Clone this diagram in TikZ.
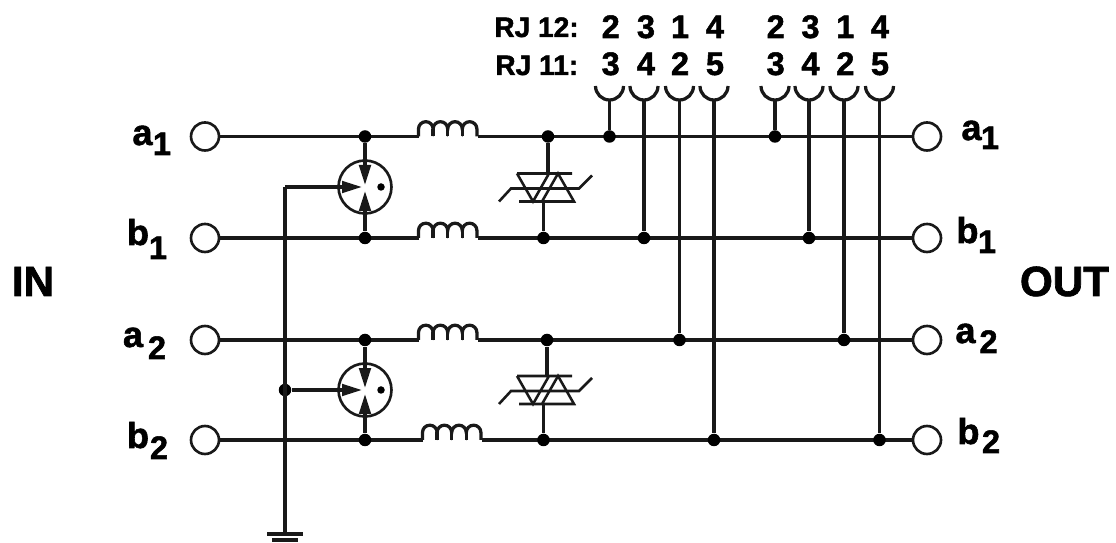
\documentclass[tikz,border=0pt]{standalone}
\usepackage{fontspec}
\setmainfont[BoldFeatures={FakeBold=1.6}]{Liberation Sans}
\usetikzlibrary{arrows.meta}
\tikzset{
  x=0.02cm,y=-0.02cm,
  wire/.style={line width=1.85pt,black!90},
  thin wire/.style={line width=1.45pt,black!90},
  port/.style={shape=circle,draw,line width=1.5pt,black!90,minimum size=0.56cm,inner sep=0pt},
  dot/.style={shape=circle,fill=black,minimum size=0.25cm,inner sep=0pt},
  small dot/.style={shape=circle,fill=black,minimum size=0.15cm,inner sep=0pt},
  tube/.style={shape=circle,draw,line width=1.5pt,black!90,minimum size=1.06cm,inner sep=0pt},
  letter/.style={font=\bfseries\fontsize{20.5}{20}\selectfont,inner sep=0pt,anchor=base},
  digit/.style={font=\bfseries\fontsize{18.5}{18}\selectfont,inner sep=0pt,anchor=base},
  rj/.style={font=\bfseries\fontsize{16}{16}\selectfont,inner sep=0pt,anchor=base west},
  big/.style={font=\bfseries\fontsize{24}{24}\selectfont,inner sep=0pt,anchor=base},
  tip/.style={-{Triangle[length=0.4cm,width=0.23cm]},line width=1.85pt,black!90},
}
\newcommand{\coil}[2]{% left end, wire height
  \draw [wire] (#1,#2) -- ++(0,-7.5) arc (180:360:7.3) arc (180:360:7.3) arc (180:360:7.3) arc (180:360:7.3) -- ++(0,7.5);
  \draw [wire] (#1+14.6,#2) -- ++(0,-7.5) (#1+29.2,#2) -- ++(0,-7.5) (#1+43.8,#2) -- ++(0,-7.5);
}
\newcommand{\tvs}[2]{% upper left corner of the suppressor
  \draw [thin wire] (#1-18,#2+28) -- (#1-6,#2+15) -- (#1+62,#2+15) -- (#1+75,#2+2);
  \draw [thin wire] (#1,#2) -- (#1+55,#2) (#1,#2) -- (#1+16,#2+28) -- (#1+32,#2);
  \draw [thin wire] (#1+2,#2+28) -- (#1+57,#2+28) -- (#1+41,#2) -- (#1+25,#2+28);
}
\begin{document}
\begin{tikzpicture}
\useasboundingbox (0,0) rectangle (1116,543);
% ports
\node (a1) at (205,136.5) [port] {};
\node (b1) at (205,238) [port] {};
\node (a2) at (205,340) [port] {};
\node (b2) at (205,440) [port] {};
\node (a1o) at (927,136.5) [port] {};
\node (b1o) at (927,238) [port] {};
\node (a2o) at (927,340) [port] {};
\node (b2o) at (927,440) [port] {};
% wires
\draw [wire] (a1) -- (418.5,136.5) (477.7,136.5) -- (a1o);
\draw [wire] (b1) -- (418.5,238) (477.7,238) -- (b1o);
\draw [wire] (a2) -- (418.5,340) (477.7,340) -- (a2o);
\draw [wire] (b2) -- (422.5,440) (481.7,440) -- (b2o);
\coil{418.5}{136.5}
\coil{418.5}{238}
\coil{418.5}{340}
\coil{422.5}{440}
% junctions
\node (t1) at (365,136.5) [dot] {};
\node (t2) at (365,238) [dot] {};
\node (t3) at (365,340) [dot] {};
\node (t4) at (365,440) [dot] {};
\node (s1) at (548,136.5) [dot] {};
\node (s2) at (543.5,238) [dot] {};
\node (s3) at (547,340) [dot] {};
\node (s4) at (543.5,440) [dot] {};
\node (g) at (285,390) [dot] {};
% surge arresters
\node (u1) at (365,187) [tube] {};
\node (u2) at (365,390) [tube] {};
\node (p1) at (381,187) [small dot] {};
\node (p2) at (381,390) [small dot] {};
\coordinate (c1) at (365,185);
\coordinate (d1) at (365,191);
\coordinate (e1) at (362,187);
\coordinate (c2) at (365,388);
\coordinate (d2) at (365,394);
\coordinate (e2) at (362,390);
\coordinate (h1) at (285,187);
\coordinate (gnd) at (285,534);
\draw [tip] (t1) -- (c1);
\draw [tip] (t2) -- (d1);
\draw [tip] (t3) -- (c2);
\draw [tip] (t4) -- (d2);
\draw [tip] (h1) -- (e1);
\draw [tip] (g) -- (e2);
\draw [wire] (gnd) -- (h1);
% earth
\draw [wire] (267,534) -- (303,534);
\draw [wire] (272,540) -- (298,540);
% suppressors
\draw [wire] (s1) -- (548,173.5);
\draw [wire] (s2) -- (543.5,201.5);
\draw [wire] (s3) -- (547,376);
\draw [wire] (s4) -- (543.5,404);
\tvs{517}{173.5}
\tvs{517}{376}
% RJ sockets
\foreach \x/\y/\n in {609.5/136.5/ja,644/238/jb,679.5/340/jc,714/440/jd,775/136.5/je,809/238/jf,844/340/jg,879.5/440/jh}{
  \node (\n) at (\x,\y) [dot] {};
  \draw [wire] (\n) -- (\x,99);
  \draw [wire] (\x-14,86) arc (180:0:14);
}
% labels
\foreach \n/\t/\x/\y/\d/\u/\v in {la/a/142.5/145/1/162/155,lb/b/138/245/1/158/259,lc/a/133/347/2/157/359,ld/b/138/448/2/159/459,ra/a/971.5/140/1/990/149,rb/b/967.5/243/1/987/253,rc/a/965.5/343/2/988.5/353,rd/b/968.5/444/2/991/453}{
  \node (\n) at (\x,\y) [letter] {\t};
  \node (\n d) at (\u,\v) [digit] {\d};
}
\node (in) at (33,296) [big] {IN};
\node (out) at (1064.5,296) [big] {OUT};
\node (rjb) at (494,37) [rj] {RJ 12:};
\node (rja) at (495,75) [rj] {RJ 11:};
\foreach \x/\t/\b [count=\i] in {610.7/2/3,646/3/4,680/1/2,715/4/5,775.7/2/3,810.5/3/4,845.3/1/2,880/4/5}{
  \node (top\i) at (\x,38) [digit] {\t};
  \node (bot\i) at (\x,75) [digit] {\b};
}
\end{tikzpicture}
\end{document}
